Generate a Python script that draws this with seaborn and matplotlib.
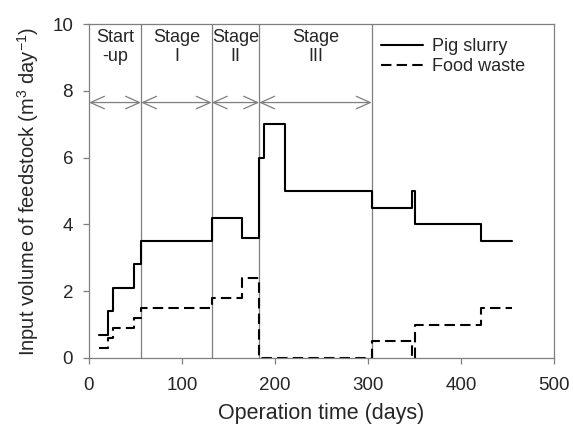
import numpy as np
import pandas as pd
import seaborn as sns
import matplotlib.pyplot as plt

# step data (day where the feed rate changes, rate from that day on)
pig_days = [11, 20, 26, 48, 56, 132, 164, 183, 188, 211, 304, 347, 351, 421, 455]
pig_vals = [0.7, 1.4, 2.1, 2.8, 3.5, 4.2, 3.6, 6.0, 7.0, 5.0, 4.5, 5.0, 4.0, 3.5, 3.5]
food_days = [11, 20, 26, 48, 56, 132, 164, 183, 304, 347, 351, 421, 455]
food_vals = [0.3, 0.6, 0.9, 1.2, 1.5, 1.8, 2.4, 0.0, 0.5, 0.0, 1.0, 1.5, 1.5]

stage_edges = [0, 56, 132, 183, 304]
stage_names = ['Start\n-up', 'Stage\nI', 'Stage\nII', 'Stage\nIII']

sns.set_style('ticks')
plt.rcParams['font.family'] = ['Liberation Sans', 'DejaVu Sans']
plt.rcParams['mathtext.fontset'] = 'custom'
plt.rcParams['mathtext.rm'] = 'Liberation Sans'
plt.rcParams['mathtext.it'] = 'Liberation Sans:italic'

pig = pd.DataFrame({'day': pig_days, 'rate': pig_vals})
food = pd.DataFrame({'day': food_days, 'rate': food_vals})

fig = plt.figure(figsize=(5.73, 4.32), dpi=100)
ax = fig.add_axes([0.1553, 0.1713, 0.8115, 0.773])

sns.lineplot(data=pig, x='day', y='rate', ax=ax, color='black', lw=1.5,
             drawstyle='steps-post', estimator=None, sort=False, label='Pig slurry')
sns.lineplot(data=food, x='day', y='rate', ax=ax, color='black', lw=1.5,
             drawstyle='steps-post', estimator=None, sort=False, label='Food waste',
             linestyle=(0, (5, 2.5)))

gray = '#7f7f7f'
for e in stage_edges[1:]:
    ax.axvline(e, color=gray, lw=0.9, zorder=1)

arrow_y = 7.65
for a, b, name in zip(stage_edges[:-1], stage_edges[1:], stage_names):
    ax.annotate('', xy=(b, arrow_y), xytext=(a, arrow_y),
                arrowprops=dict(arrowstyle='<->,head_length=1.0,head_width=0.45',
                                color=gray, lw=0.9, shrinkA=0, shrinkB=0))
    ax.text((a + b) / 2, 9.3, name, ha='center', va='center', fontsize=13,
            linespacing=1.15)

ax.set_xlim(0, 500)
ax.set_ylim(0, 10)
ax.set_xticks(np.arange(0, 501, 100))
ax.set_yticks(np.arange(0, 11, 2))
ax.tick_params(labelsize=13.5, color=gray, length=4.5, width=0.9, direction='out')
ax.tick_params(axis='x', pad=9)
ax.tick_params(axis='y', pad=7)
for s in ax.spines.values():
    s.set_color(gray)
    s.set_linewidth(0.9)

ax.set_xlabel('Operation time (days)', fontsize=15.5, labelpad=7)
ax.set_ylabel('Input volume of feedstock (m$^3$ day$^{-1}$)', fontsize=14.5,
              labelpad=8)

leg = ax.legend(loc='upper left', bbox_to_anchor=(0.628, 0.958), frameon=False,
                fontsize=13, handlelength=2.33, handletextpad=0.5,
                labelspacing=0.17, borderpad=0, borderaxespad=0)

plt.savefig('out.png', dpi=100)
